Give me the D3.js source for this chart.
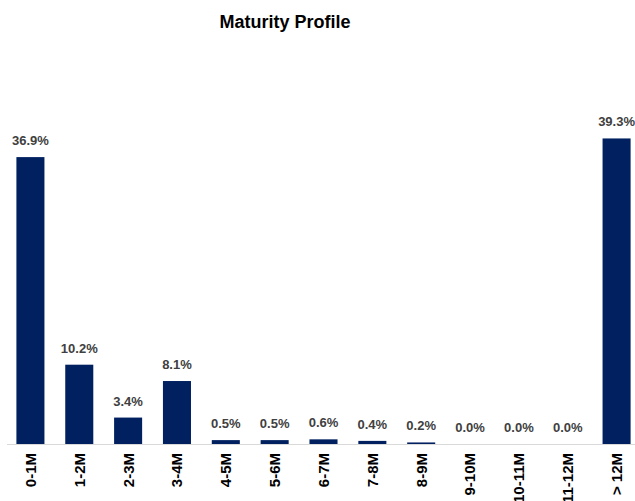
<!DOCTYPE html>
<html>
<head>
<meta charset="utf-8">
<script src="https://cdn.jsdelivr.net/npm/d3@7"></script>
<style>
  body { margin: 0; background: #fff; }
  text { font-family: "Liberation Sans", Arial, sans-serif; font-weight: bold; }
</style>
</head>
<body>
<svg id="chart" width="635" height="501"></svg>
<script>
const categories = ['0-1M', '1-2M', '2-3M', '3-4M', '4-5M', '5-6M', '6-7M', '7-8M', '8-9M', '9-10M', '10-11M', '11-12M', '> 12M'];
const shares = [36.9, 10.2, 3.4, 8.1, 0.5, 0.5, 0.6, 0.4, 0.2, 0.0, 0.0, 0.0, 39.3];

const data = categories.map((c, i) => ({ cat: c, value: shares[i] }));

const svg = d3.select('#chart');

const dim = { left: 6, right: 641, baseline: 444, top: 133 };

const scaleX = d3.scaleBand()
  .domain(categories)
  .range([dim.left, dim.right])
  .paddingInner(0.426)
  .paddingOuter(0.213);

const scaleY = d3.scaleLinear()
  .domain([0, 40])
  .range([dim.baseline, dim.top]);

svg.append('text')
  .attr('x', 285)
  .attr('y', 28)
  .attr('text-anchor', 'middle')
  .style('font-size', '18px')
  .style('fill', '#000')
  .text('Maturity Profile');

svg.append('g')
  .selectAll('rect')
  .data(data)
  .enter()
  .append('rect')
  .attr('x', (d) => scaleX(d.cat))
  .attr('width', scaleX.bandwidth())
  .attr('y', (d) => scaleY(d.value))
  .attr('height', (d) => dim.baseline - scaleY(d.value))
  .style('fill', '#002060');

// value labels
svg.append('g')
  .selectAll('text')
  .data(data)
  .enter()
  .append('text')
  .attr('x', (d) => scaleX(d.cat) + scaleX.bandwidth() / 2)
  .attr('y', (d) => scaleY(d.value) - 12)
  .attr('text-anchor', 'middle')
  .style('font-size', '13px')
  .style('fill', '#404040')
  .text((d) => `${d.value.toFixed(1)}%`);

// x axis
const xAxis = svg.append('g')
  .attr('transform', `translate(0, ${dim.baseline})`)
  .call(d3.axisBottom(scaleX).tickSize(0).tickSizeOuter(0));

xAxis.select('.domain')
  .attr('d', `M${dim.left + 1},0.5H${dim.right}`)
  .style('stroke', '#d9d9d9');

xAxis.selectAll('text')
  .attr('transform', 'rotate(-90)')
  .attr('x', -9)
  .attr('y', 0)
  .attr('dy', '0.36em')
  .attr('text-anchor', 'end')
  .style('font-family', '"Liberation Sans", Arial, sans-serif')
  .style('font-weight', 'bold')
  .style('font-size', '15px')
  .style('fill', '#000');
</script>
</body>
</html>
